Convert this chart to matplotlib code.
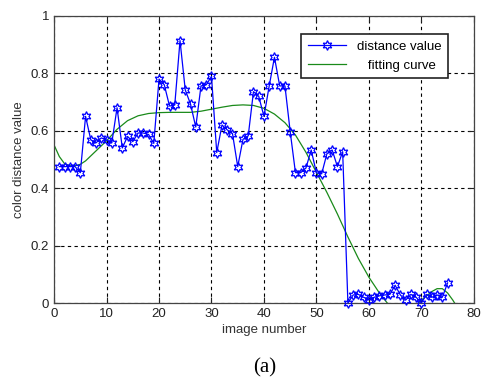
import numpy as np
import matplotlib
matplotlib.use('Agg')
import matplotlib.pyplot as plt

plt.rcParams['font.family'] = ['Liberation Sans', 'DejaVu Sans']

# distance values for images 1..75
image_no = np.arange(1, 76)
distance = [0.475, 0.475, 0.475, 0.475, 0.454, 0.65, 0.568, 0.558, 0.575, 0.568,
            0.558, 0.68, 0.54, 0.58, 0.562, 0.592, 0.592, 0.587, 0.556, 0.78,
            0.76, 0.686, 0.69, 0.914, 0.742, 0.693, 0.613, 0.756, 0.76, 0.789,
            0.524, 0.62, 0.603, 0.59, 0.475, 0.57, 0.582, 0.736, 0.72, 0.65,
            0.756, 0.856, 0.756, 0.756, 0.597, 0.454, 0.454, 0.47, 0.533, 0.453,
            0.45, 0.52, 0.533, 0.475, 0.527, 0.0, 0.028, 0.03, 0.02, 0.012,
            0.02, 0.025, 0.028, 0.03, 0.062, 0.028, 0.01, 0.03, 0.02, 0.0,
            0.03, 0.02, 0.028, 0.02, 0.07]

# fitting curve
fit_x = [0, 1, 2, 3, 4, 5, 6, 8, 10, 12, 14, 16, 18, 20, 22, 24, 26, 28, 30,
         32, 34, 36, 38, 40, 42, 44, 46, 48, 50, 52, 54, 56, 58, 60, 62, 63.5,
         65, 67, 69, 70, 72, 73, 74, 75, 76, 77]
fit_y = [0.55, 0.51, 0.485, 0.478, 0.478, 0.483, 0.495, 0.53, 0.565, 0.605,
         0.635, 0.652, 0.66, 0.663, 0.664, 0.664, 0.664, 0.668, 0.675, 0.682,
         0.688, 0.69, 0.688, 0.678, 0.658, 0.628, 0.585, 0.525, 0.455, 0.385,
         0.31, 0.23, 0.155, 0.09, 0.035, 0.0, -0.02, -0.03, -0.01, 0.01,
         0.04, 0.05, 0.05, 0.035, 0.01, -0.02]

xticks = [0, 10, 20, 30, 40, 50, 60, 70, 80]
yticks = [0, 0.2, 0.4, 0.6, 0.8, 1]
yticklabels = ['0', '0.2', '0.4', '0.6', '0.8', '1']

fig = plt.figure(figsize=(4.83, 3.87), dpi=100)
ax = fig.add_axes([0.112, 0.217, 0.869, 0.742])

ax.plot(image_no, distance, color='#0000ff', lw=0.9, marker=(6, 1, 0),
        markersize=7, markerfacecolor='none', markeredgecolor='#0000ff',
        markeredgewidth=0.9, label='distance value', clip_on=False, zorder=3)
ax.plot(fit_x, fit_y, color='#1a8a1a', lw=0.9, label='   fitting curve', zorder=2)

ax.set_xlim(0, 80)
ax.set_ylim(0, 1)
ax.set_xticks(xticks)
ax.set_yticks(yticks)
ax.set_yticklabels(yticklabels)
ax.tick_params(direction='in', length=4, labelsize=9.5, top=True, right=True,
               colors='#222222', labelcolor='#222222')
ax.grid(True, color='black', linestyle=(0, (3, 3)), linewidth=0.8)
for s in ax.spines.values():
    s.set_color('#444444')
    s.set_linewidth(0.9)

ax.set_xlabel('image number', fontsize=9.5, color='#333333', labelpad=3)
ax.set_ylabel('color distance value', fontsize=9.5, color='#333333', labelpad=4)

leg = ax.legend(loc='upper right', bbox_to_anchor=(0.954, 0.96), fontsize=9.5,
                fancybox=False, framealpha=1, edgecolor='#222222',
                handlelength=2.9, borderpad=0.5, labelspacing=0.5)
leg.get_frame().set_linewidth(1.2)

fig.text(0.548, 0.05, '(a)', family=['Liberation Serif', 'DejaVu Serif'],
         fontsize=15, ha='center', va='center')

fig.savefig('out.png', dpi=100)
